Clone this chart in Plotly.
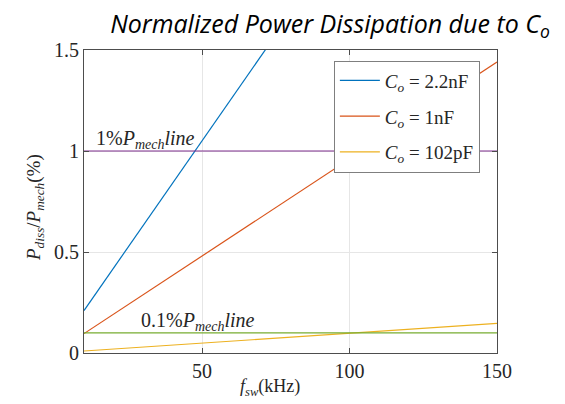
import plotly.graph_objects as go

f_khz = [10, 150]
p_22nF = [0.21, 3.15]
p_1nF = [0.096, 1.44]
p_102pF = [0.0098, 0.147]
line_1pct = [1.0, 1.0]
line_01pct = [0.1, 0.1]

series_names = ["<i>C<sub>o</sub></i> = 2.2nF", "<i>C<sub>o</sub></i> = 1nF", "<i>C<sub>o</sub></i> = 102pF"]
x_ticks = [50, 100, 150]
y_ticks = [0, 0.5, 1, 1.5]
y_tick_text = ["0", "0.5", "1", "1.5"]

serif = "Liberation Serif"
axis_col = "#4d4d4d"

fig = go.Figure()
colors = ["#0072BD", "#D95319", "#EDB120"]
for i, (vals, nm) in enumerate(zip([p_22nF, p_1nF, p_102pF], series_names)):
    fig.add_trace(go.Scatter(x=f_khz, y=vals, mode="lines", name=nm, legendgroup=f"g{i}",
                             line=dict(color=colors[i], width=1.2)))
fig.add_trace(go.Scatter(x=f_khz, y=line_1pct, mode="lines", showlegend=False,
                         line=dict(color="#7E2F8E", width=1.2)))
fig.add_trace(go.Scatter(x=f_khz, y=line_01pct, mode="lines", showlegend=False,
                         line=dict(color="#77AC30", width=1.2)))

fig.add_annotation(x=13.5, y=1.0, xref="x", yref="y", xanchor="left", yanchor="bottom",
                   text="1%<i>P<sub>mech</sub>line</i>", showarrow=False,
                   font=dict(family=serif, size=20, color="#262626"), yshift=-3)
fig.add_annotation(x=28.5, y=0.1, xref="x", yref="y", xanchor="left", yanchor="bottom",
                   text="0.1%<i>P<sub>mech</sub>line</i>", showarrow=False,
                   font=dict(family=serif, size=20, color="#262626"), yshift=-3)

# axis titles
fig.add_annotation(x=0.45, y=-0.07, xref="paper", yref="paper", xanchor="center", yanchor="top",
                   text="<i>f<sub>sw</sub></i>(kHz)", showarrow=False,
                   font=dict(family=serif, size=18, color="#262626"))
fig.add_annotation(x=-0.12, y=0.48, xref="paper", yref="paper", xanchor="center", yanchor="middle",
                   text="<i>P<sub>diss</sub></i>/<i>P<sub>mech</sub></i>(%)", showarrow=False, textangle=-90,
                   font=dict(family=serif, size=19, color="#262626"))

fig.update_layout(
    width=565, height=404,
    margin=dict(l=84, r=68, t=50, b=51, autoexpand=False),
    paper_bgcolor="white", plot_bgcolor="white",
    title=dict(text="<i>Normalized Power Dissipation due to C<sub>o</sub></i>",
               x=0.584, xanchor="center", y=0.94, yanchor="middle",
               font=dict(family="Open Sans", size=25, color="black")),
    legend=dict(x=0.605, y=0.965, xanchor="left", yanchor="top",
                bgcolor="white", bordercolor="#7f7f7f", borderwidth=1,
                font=dict(family=serif, size=19, color="#262626"),
                tracegroupgap=8, itemwidth=40),
    showlegend=True,
)
fig.update_xaxes(range=[10, 150], tickvals=x_ticks, ticks="inside", ticklen=5,
                 tickcolor=axis_col, showline=True, linecolor=axis_col, linewidth=1,
                 mirror="ticks", showgrid=True, gridcolor="#e6e6e6", zeroline=False,
                 automargin=False,
                 tickfont=dict(family=serif, size=20, color="#262626"))
fig.update_yaxes(range=[0, 1.5], tickvals=y_ticks, ticktext=y_tick_text, ticks="inside", ticklen=5,
                 tickcolor=axis_col, showline=True, linecolor=axis_col, linewidth=1,
                 mirror="ticks", showgrid=True, gridcolor="#e6e6e6", zeroline=False,
                 automargin=False,
                 tickfont=dict(family=serif, size=20, color="#262626"))

fig.write_html("out.html")
